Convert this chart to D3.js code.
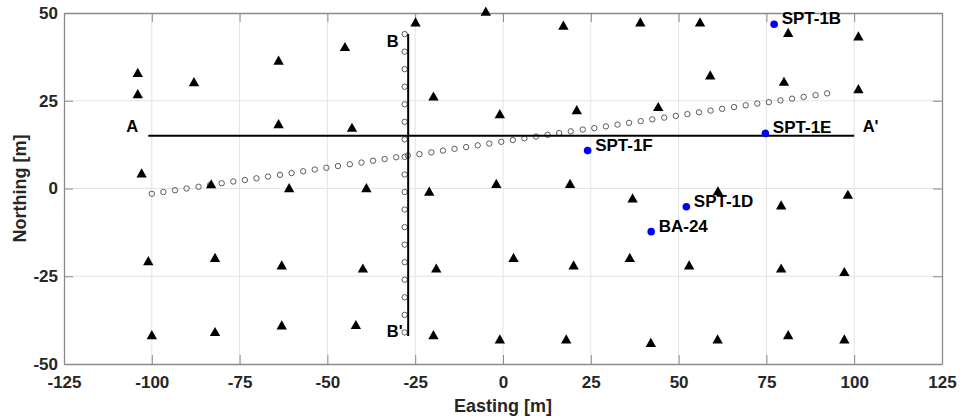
<!DOCTYPE html>
<html>
<head>
<meta charset="utf-8">
<script src="https://cdn.jsdelivr.net/npm/d3@7"></script>
<style>
  html, body { margin: 0; padding: 0; background: #fff; }
  svg text { font-family: Arial, "Liberation Sans", Helvetica, sans-serif; font-weight: bold; }
</style>
</head>
<body>
<div id="chart"></div>
<script>
// ---- Data ----
const xTicks = [-125, -100, -75, -50, -25, 0, 25, 50, 75, 100, 125];
const yTicks = [-50, -25, 0, 25, 50];

// Triangle stations (Easting, Northing)
const triX = [-104.0, -104.0, -102.9, -88.0, -83.1, -63.9, -63.9, -60.9, -45.0, -43.0, -38.9,
  -24.9, -19.8, -4.9, -0.9, 17.2, 21.0, 39.1, 56.1, 81.2, 101.2, 59.0, 80.0, 101.2, 44.2,
  -21.0, -1.9, 19.1, 36.9, 61.2, 98.2, 79.2,
  -101.0, -82.0, -63.0, -39.9, -19.0, 3.0, 20.1, 36.1, 53.0, 79.2, 97.2,
  -100.0, -82.0, -63.0, -41.9, -19.8, -0.9, 18.0, 42.1, 61.1, 81.2, 97.2];
const triY = [33.0, 27.0, 4.4, 30.4, 1.3, 36.5, 18.4, 0.2, 40.4, 17.4, 0.2,
  47.4, 26.3, 50.5, 21.3, 46.5, 22.4, 47.4, 47.4, 44.4, 43.4, 32.3, 30.5, 28.4, 23.3,
  -0.8, 1.4, 1.4, -2.7, -0.7, -1.7, -4.7,
  -20.6, -19.7, -21.8, -22.7, -22.7, -19.7, -21.8, -19.7, -21.8, -22.7, -23.7,
  -41.7, -40.8, -38.9, -38.8, -41.7, -42.9, -42.9, -43.9, -42.9, -41.7, -42.9];

// Slanted line of open circles
const diagX = [-100.0, -96.7, -93.4, -90.1, -86.7, -83.4, -80.1, -76.8, -73.5, -70.2, -66.9, -63.5,
  -60.2, -56.9, -53.6, -50.3, -47.0, -43.6, -40.3, -37.0, -33.7, -30.4, -27.1, -23.8, -20.4, -17.1,
  -13.8, -10.5, -7.2, -3.9, -0.5, 2.8, 6.1, 9.4, 12.7, 16.0, 19.3, 22.7, 26.0, 29.3, 32.6, 35.9,
  39.2, 42.5, 45.9, 49.2, 52.5, 55.8, 59.1, 62.4, 65.8, 69.1, 72.4, 75.7, 79.0, 82.3, 85.6, 89.0, 92.3];
const diagY = [-1.5, -1.0, -0.5, 0.0, 0.5, 1.0, 1.5, 2.0, 2.4, 2.9, 3.4, 3.9,
  4.4, 4.9, 5.4, 5.9, 6.4, 6.9, 7.4, 7.9, 8.4, 8.9, 9.4, 9.8, 10.3, 10.8,
  11.3, 11.8, 12.3, 12.8, 13.3, 13.8, 14.3, 14.8, 15.3, 15.8, 16.3, 16.8, 17.2, 17.7, 18.2, 18.7,
  19.2, 19.7, 20.2, 20.7, 21.2, 21.7, 22.2, 22.7, 23.2, 23.7, 24.2, 24.6, 25.1, 25.6, 26.1, 26.6, 27.1];

// Vertical line of open circles
const vertX = [-28, -28, -28, -28, -28, -28, -28, -28, -28, -28, -28, -28, -28, -28, -28, -28, -28, -28];
const vertY = [44, 39, 34, 29, 24, 19, 14, 9, 4, -1, -6, -11, -16, -21, -26, -31, -36, -41];

// Boreholes
const boreNames = ["SPT-1B", "SPT-1E", "SPT-1F", "SPT-1D", "BA-24"];
const boreX = [77.2, 74.7, 24.1, 52.2, 42.2];
const boreY = [46.8, 15.7, 10.8, -5.2, -12.3];

// Section lines
const sectionNames = ["A-A'", "B-B'"];
const sectionX1 = [-101, -27];
const sectionY1 = [15, 44];
const sectionX2 = [100, -27];
const sectionY2 = [15, -42];

// Section end labels (left/baseline in data units)
const endLabels = ["A", "A'", "B", "B'"];
const endLabelX = [-107.3, 102.4, -33.1, -33.1];
const endLabelY = [16.1, 16.1, 40.4, -42.3];

// ---- Layout ----
const W = 962, H = 419;
const L = 64, R = 942, T = 13, B = 364;

const svg = d3.select("#chart").append("svg")
  .attr("width", W).attr("height", H);

const x = d3.scaleLinear().domain([-125, 125]).range([L, R]);
const y = d3.scaleLinear().domain([-50, 50]).range([B, T]);

// Grid
const grid = svg.append("g");
grid.selectAll(".gx").data(xTicks.slice(1, -1)).join("line")
  .attr("x1", d => x(d)).attr("x2", d => x(d)).attr("y1", T).attr("y2", B)
  .attr("stroke", "#e3e3e3").attr("stroke-width", 1);
grid.selectAll(".gy").data(yTicks.slice(1, -1)).join("line")
  .attr("y1", d => y(d)).attr("y2", d => y(d)).attr("x1", L).attr("x2", R)
  .attr("stroke", "#e3e3e3").attr("stroke-width", 1);

// Axes (inward ticks on all sides)
const tickLen = 9;
const axColor = "#8a8a8a";
const fmt = d => String(d);

const gxB = svg.append("g").attr("transform", `translate(0,${B})`)
  .call(d3.axisBottom(x).tickValues(xTicks).tickSizeInner(-tickLen).tickSizeOuter(0).tickPadding(12).tickFormat(fmt));
const gxT = svg.append("g").attr("transform", `translate(0,${T})`)
  .call(d3.axisTop(x).tickValues(xTicks).tickSizeInner(-tickLen).tickSizeOuter(0).tickFormat(""));
const gyL = svg.append("g").attr("transform", `translate(${L},0)`)
  .call(d3.axisLeft(y).tickValues(yTicks).tickSizeInner(-tickLen).tickSizeOuter(0).tickPadding(6).tickFormat(fmt));
const gyR = svg.append("g").attr("transform", `translate(${R},0)`)
  .call(d3.axisRight(y).tickValues(yTicks).tickSizeInner(-tickLen).tickSizeOuter(0).tickFormat(""));

[gxB, gxT, gyL, gyR].forEach(g => {
  g.select(".domain").attr("stroke", axColor).attr("stroke-width", 1.3);
  g.selectAll(".tick line").attr("stroke", axColor).attr("stroke-width", 1);
  g.selectAll(".tick text").attr("fill", "#262626").style("font-size", "17px")
    .style("font-family", "Arial, 'Liberation Sans', sans-serif").style("font-weight", "bold");
});
gxB.selectAll(".tick text").attr("dy", "0.71em");

// Axis labels
svg.append("text").attr("x", (L + R) / 2).attr("y", 412)
  .attr("text-anchor", "middle").attr("fill", "#262626").style("font-size", "18px")
  .text("Easting [m]");
svg.append("text").attr("transform", `translate(26,${(T + B) / 2}) rotate(-90)`)
  .attr("text-anchor", "middle").attr("fill", "#262626").style("font-size", "18px")
  .text("Northing [m]");

// Open circle lines
const circG = svg.append("g");
circG.selectAll(".dc").data(diagX.map((d, i) => [d, diagY[i]])).join("circle")
  .attr("cx", d => x(d[0])).attr("cy", d => y(d[1])).attr("r", 2.7)
  .attr("fill", "none").attr("stroke", "#4a4a4a").attr("stroke-width", 0.9);
circG.selectAll(".vc").data(vertX.map((d, i) => [d, vertY[i]])).join("circle")
  .attr("cx", d => x(d[0])).attr("cy", d => y(d[1])).attr("r", 2.7)
  .attr("fill", "none").attr("stroke", "#4a4a4a").attr("stroke-width", 0.9);

// Section lines
svg.append("g").selectAll("line").data(sectionNames.map((n, i) => i)).join("line")
  .attr("x1", i => x(sectionX1[i])).attr("y1", i => y(sectionY1[i]))
  .attr("x2", i => x(sectionX2[i])).attr("y2", i => y(sectionY2[i]))
  .attr("stroke", "#000").attr("stroke-width", 2);

// Triangles
const triPath = "M0,-4.8L5.2,4.4L-5.2,4.4Z";
svg.append("g").selectAll("path").data(triX.map((d, i) => [d, triY[i]])).join("path")
  .attr("d", triPath)
  .attr("transform", d => `translate(${x(d[0])},${y(d[1])})`)
  .attr("fill", "#000");

// Section end labels
svg.append("g").selectAll("text").data(endLabels.map((d, i) => i)).join("text")
  .attr("x", i => x(endLabelX[i])).attr("y", i => y(endLabelY[i]))
  .attr("fill", "#000").style("font-size", "16.5px")
  .text(i => endLabels[i]);

// Boreholes
const bg = svg.append("g");
bg.selectAll("circle").data(boreNames.map((d, i) => i)).join("circle")
  .attr("cx", i => x(boreX[i])).attr("cy", i => y(boreY[i])).attr("r", 3.8)
  .attr("fill", "#0000ff");
bg.selectAll("text").data(boreNames.map((d, i) => i)).join("text")
  .attr("x", i => x(boreX[i]) + 7.5).attr("y", i => y(boreY[i]))
  .attr("fill", "#000").style("font-size", "17px")
  .text(i => boreNames[i]);
</script>
</body>
</html>
